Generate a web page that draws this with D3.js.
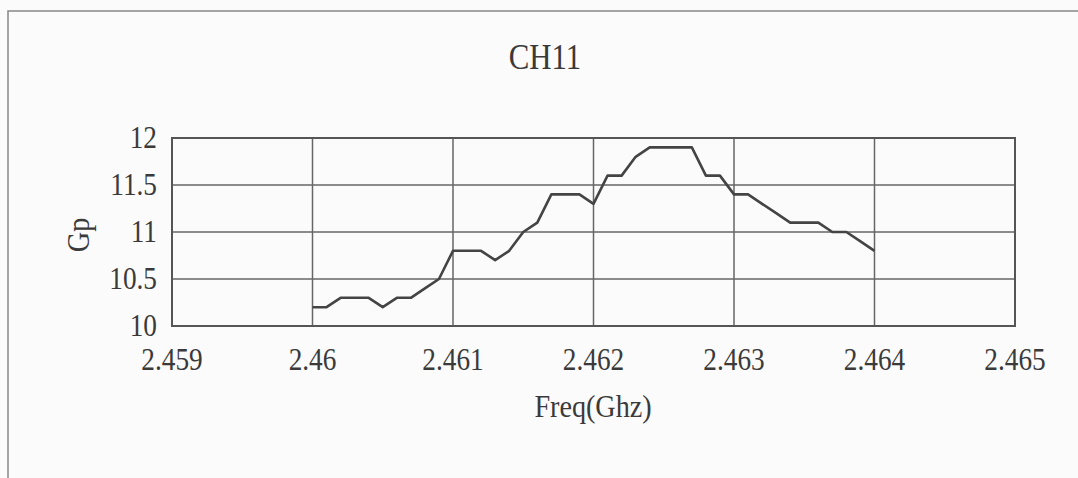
<!DOCTYPE html>
<html>
<head>
<meta charset="utf-8">
<script src="https://cdn.jsdelivr.net/npm/d3@7"></script>
<style>
  body { margin: 0; background: #fbfbfb; }
  text { font-family: "Liberation Serif", "Times New Roman", serif; fill: #3a3a3a; }
</style>
</head>
<body>
<svg id="chart"></svg>
<script>
const WIDTH = 1078;
const HEIGHT = 478;

// frequency (GHz) and power gain readings
const freq = [2.4600, 2.4601, 2.4602, 2.4603, 2.4604, 2.4605, 2.4606, 2.4607, 2.4608, 2.4609,
              2.4610, 2.4611, 2.4612, 2.4613, 2.4614, 2.4615, 2.4616, 2.4617, 2.4618, 2.4619,
              2.4620, 2.4621, 2.4622, 2.4623, 2.4624, 2.4625, 2.4626, 2.4627, 2.4628, 2.4629,
              2.4630, 2.4631, 2.4632, 2.4633, 2.4634, 2.4635, 2.4636, 2.4637, 2.4638, 2.4639,
              2.4640];
const gp = [10.2, 10.2, 10.3, 10.3, 10.3, 10.2, 10.3, 10.3, 10.4, 10.5,
            10.8, 10.8, 10.8, 10.7, 10.8, 11.0, 11.1, 11.4, 11.4, 11.4,
            11.3, 11.6, 11.6, 11.8, 11.9, 11.9, 11.9, 11.9, 11.6, 11.6,
            11.4, 11.4, 11.3, 11.2, 11.1, 11.1, 11.1, 11.0, 11.0, 10.9,
            10.8];
const xTicks = [2.459, 2.46, 2.461, 2.462, 2.463, 2.464, 2.465];
const yTicks = [10, 10.5, 11, 11.5, 12];

const margin = {left: 172, right: 63, top: 138, bottom: 152};

let svg = d3.select('#chart')
    .attr('width', WIDTH)
    .attr('height', HEIGHT);

// scanned page frame
svg.append('path')
    .attr('d', 'M8,478 L8,11 L1078,11')
    .attr('fill', 'none')
    .attr('stroke', '#888')
    .attr('stroke-width', 1.5);

const x = d3.scaleLinear()
    .domain([2.459, 2.465])
    .range([margin.left, WIDTH - margin.right]);

const y = d3.scaleLinear()
    .domain([10, 12])
    .range([HEIGHT - margin.bottom, margin.top]);

// grid
svg.append('g')
    .selectAll('line.h')
    .data(yTicks)
    .enter()
    .append('line')
    .attr('x1', x.range()[0]).attr('x2', x.range()[1])
    .attr('y1', d => y(d)).attr('y2', d => y(d))
    .attr('stroke', '#666').attr('stroke-width', 1.5);

svg.append('g')
    .selectAll('line.v')
    .data(xTicks)
    .enter()
    .append('line')
    .attr('x1', d => x(d)).attr('x2', d => x(d))
    .attr('y1', y(10)).attr('y2', y(12))
    .attr('stroke', '#666').attr('stroke-width', 1.5);

svg.append('rect')
    .attr('x', x.range()[0]).attr('y', y(12))
    .attr('width', x.range()[1] - x.range()[0])
    .attr('height', y(10) - y(12))
    .attr('fill', 'none')
    .attr('stroke', '#555')
    .attr('stroke-width', 2);

// data line
const line = d3.line()
    .x((d, i) => x(freq[i]))
    .y(d => y(d));

svg.append('path')
    .datum(gp)
    .attr('d', line)
    .attr('fill', 'none')
    .attr('stroke', '#444')
    .attr('stroke-width', 2.6)
    .attr('stroke-linejoin', 'round');

// condensed looking serif text
function label(px, py, str, anchor, size, rot) {
    let g = svg.append('g')
        .attr('transform', 'translate(' + px + ',' + py + ')' + (rot ? ' rotate(' + rot + ')' : '') + ' scale(0.88,1)');
    g.append('text')
        .attr('text-anchor', anchor)
        .attr('dominant-baseline', 'central')
        .style('font-size', size + 'px')
        .text(str);
}

yTicks.forEach(d => label(157, y(d) - 1, d3.format('')(d), 'end', 31));
xTicks.forEach(d => label(x(d), 359, d3.format('')(d), 'middle', 31));

label(545, 57, 'CH11', 'middle', 35);
label(593, 406, 'Freq(Ghz)', 'middle', 32);
label(78, 235, 'Gp', 'middle', 32, -90);
</script>
</body>
</html>
